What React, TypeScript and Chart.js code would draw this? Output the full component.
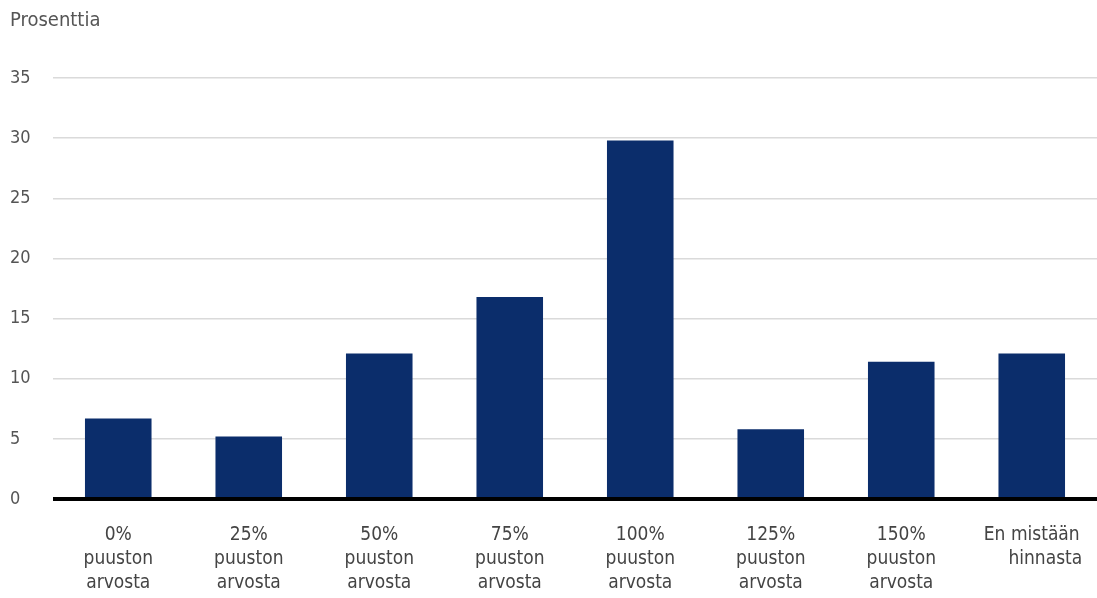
import React, { useEffect, useRef } from "react";
import { Chart, registerables } from "chart.js";

Chart.register(...registerables);

const categories: string[][] = [
  ["0%", "puuston", "arvosta"],
  ["25%", "puuston", "arvosta"],
  ["50%", "puuston", "arvosta"],
  ["75%", "puuston", "arvosta"],
  ["100%", "puuston", "arvosta"],
  ["125%", "puuston", "arvosta"],
  ["150%", "puuston", "arvosta"],
  ["En mistään", "\u00A0\u00A0\u00A0\u00A0\u00A0hinnasta"],
];
const values: number[] = [6.7, 5.2, 12.1, 16.8, 29.8, 5.8, 11.4, 12.1];
const yTicks: number[] = [0, 5, 10, 15, 20, 25, 30, 35];
const yTitle = "Prosenttia";

const FONT = "'Liberation Sans Narrow', 'DejaVu Sans Condensed', 'Open Sans', sans-serif";

export default function App() {
  const ref = useRef<HTMLCanvasElement | null>(null);
  useEffect(() => {
    if (!ref.current) return;
    const chart = new Chart(ref.current, {
      type: "bar",
      data: {
        labels: categories,
        datasets: [
          {
            data: values,
            backgroundColor: "#0b2d6b",
            barPercentage: 0.51,
            categoryPercentage: 1,
          },
        ],
      },
      options: {
        animation: false,
        responsive: false,
        maintainAspectRatio: false,
        layout: { padding: { left: 10, right: 0, top: 2, bottom: 0 } },
        plugins: {
          legend: { display: false },
          tooltip: { enabled: false },
          title: {
            display: true,
            text: yTitle,
            align: "start",
            color: "#555",
            font: { family: FONT, size: 20, weight: "normal" },
            padding: { top: 7, bottom: 45 },
          },
        },
        scales: {
          x: {
            grid: { display: false, drawTicks: false },
            border: { display: false },
            afterFit: (scale: any) => {
              scale.height = 99;
              scale.paddingLeft = 0;
              scale.paddingRight = 0;
            },
            ticks: {
              color: "#444",
              font: { family: FONT, size: 19, lineHeight: 1.26 },
              padding: 24,
              maxRotation: 0,
              autoSkip: false,
            },
          },
          y: {
            min: 0,
            max: 35,
            afterBuildTicks: (scale: any) => {
              scale.ticks = yTicks.map((v) => ({ value: v }));
            },
            afterFit: (scale: any) => {
              scale.width = 43;
            },
            border: { display: false },
            grid: {
              drawTicks: false,
              color: (ctx: any) => (ctx.tick && ctx.tick.value === 0 ? "#000" : "#dadada"),
              lineWidth: (ctx: any) => (ctx.tick && ctx.tick.value === 0 ? 4 : 1.5),
            },
            ticks: {
              color: "#555",
              font: { family: FONT, size: 18 },
              crossAlign: "far",
              padding: 8,
            },
          },
        },
      },
    });
    return () => chart.destroy();
  }, []);
  return (
    <div style={{ position: "absolute", left: 0, top: 0, width: 1097, height: 598, background: "#fff" }}>
      <canvas ref={ref} width={1097} height={598} />
    </div>
  );
}
